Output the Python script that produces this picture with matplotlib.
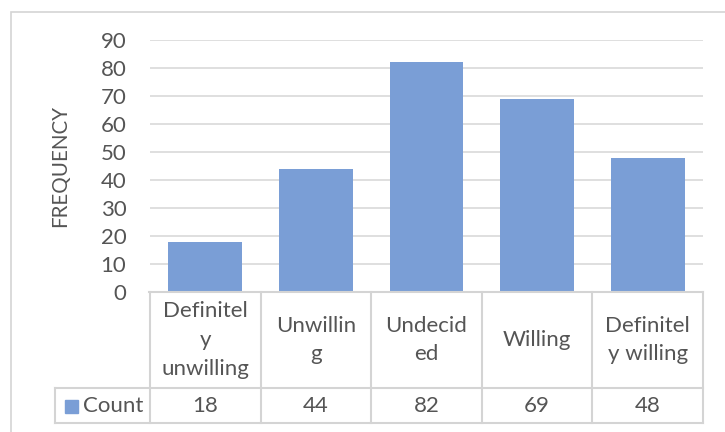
import matplotlib
matplotlib.use("Agg")
import matplotlib.pyplot as plt
from matplotlib.patches import Rectangle
from matplotlib.lines import Line2D
from matplotlib import transforms

# Data
categories = ["Definitel\ny\nunwilling", "Unwillin\ng", "Undecid\ned", "Willing", "Definitel\ny willing"]
counts = [18, 44, 82, 69, 48]
series_name = "Count"
y_ticks = list(range(0, 91, 10))
y_label = "FREQUENCY"

BAR_COLOR = "#7A9ED6"
TEXT_COLOR = "#555555"
GRID_COLOR = "#D9D9D9"
BORDER_COLOR = "#D4D4D4"
FS = 16

plt.rcParams["font.family"] = ["Lato", "DejaVu Sans"]

W, H = 725, 432
fig = plt.figure(figsize=(W / 100, H / 100), dpi=100)


def fx(px):
    return px / W


def fy(py):
    return 1 - py / H


# Plot area in pixel layout
left, right, top, base = 150, 703, 40, 292
header_bottom, table_bottom, legend_left = 388, 423, 55

ax = fig.add_axes([fx(left), fy(base), fx(right) - fx(left), fy(top) - fy(base)])
x = list(range(len(categories)))
ax.bar(x, counts, width=0.667, color=BAR_COLOR, zorder=3)
ax.set_xlim(-0.5, len(categories) - 0.5)
ax.set_ylim(0, 90)
ax.set_yticks(y_ticks)
ax.set_xticks([])
ax.yaxis.grid(True, color=GRID_COLOR, lw=1.2, zorder=0)
ax.set_axisbelow(True)
for s in ax.spines.values():
    s.set_visible(False)
ax.tick_params(axis="y", length=0, pad=17, labelsize=FS, labelcolor=TEXT_COLOR)
ax.set_ylabel(y_label, fontsize=14.8, color=TEXT_COLOR, va="center")
ax.yaxis.set_label_coords((60 - left) / (right - left), (292 - 166) / (base - top))

# Chart frame
fig.add_artist(Rectangle((fx(11), fy(H + 5)), 1.0, fy(11.5) - fy(H + 5),
                         transform=fig.transFigure, fill=False,
                         edgecolor=BORDER_COLOR, lw=1.2))

# Data table below the axis
def hline(y, x0, x1):
    fig.add_artist(Line2D([fx(x0), fx(x1)], [fy(y), fy(y)],
                          transform=fig.transFigure, color=BORDER_COLOR, lw=1.5))


def vline(xp, y0, y1):
    fig.add_artist(Line2D([fx(xp), fx(xp)], [fy(y0), fy(y1)],
                          transform=fig.transFigure, color=BORDER_COLOR, lw=1.5))


hline(base, left - 1, right)
hline(header_bottom, legend_left, right)
hline(table_bottom, legend_left, right)
col_w = (right - left) / len(categories)
for i in range(len(categories) + 1):
    vline(left + i * col_w, base, table_bottom)
vline(legend_left, header_bottom, table_bottom)

blend = transforms.blended_transform_factory(ax.transData, fig.transFigure)
head_mid = fy((base + header_bottom) / 2)
row_mid = fy((header_bottom + table_bottom) / 2)
for xi, cat, val in zip(x, categories, counts):
    fig.text(xi, head_mid, cat, transform=blend, ha="center", va="center",
             multialignment="center", linespacing=1.55, fontsize=FS, color=TEXT_COLOR)
    fig.text(xi, row_mid, str(val), transform=blend, ha="center", va="center",
             fontsize=FS, color=TEXT_COLOR)

# Legend key inside the series cell
fig.add_artist(Rectangle((fx(65), fy(413)), fx(13), fy(400) - fy(413),
                         transform=fig.transFigure, color=BAR_COLOR))
fig.text(fx(83), row_mid, series_name, ha="left", va="center",
         fontsize=FS, color=TEXT_COLOR)

fig.savefig("out.png", dpi=100)
